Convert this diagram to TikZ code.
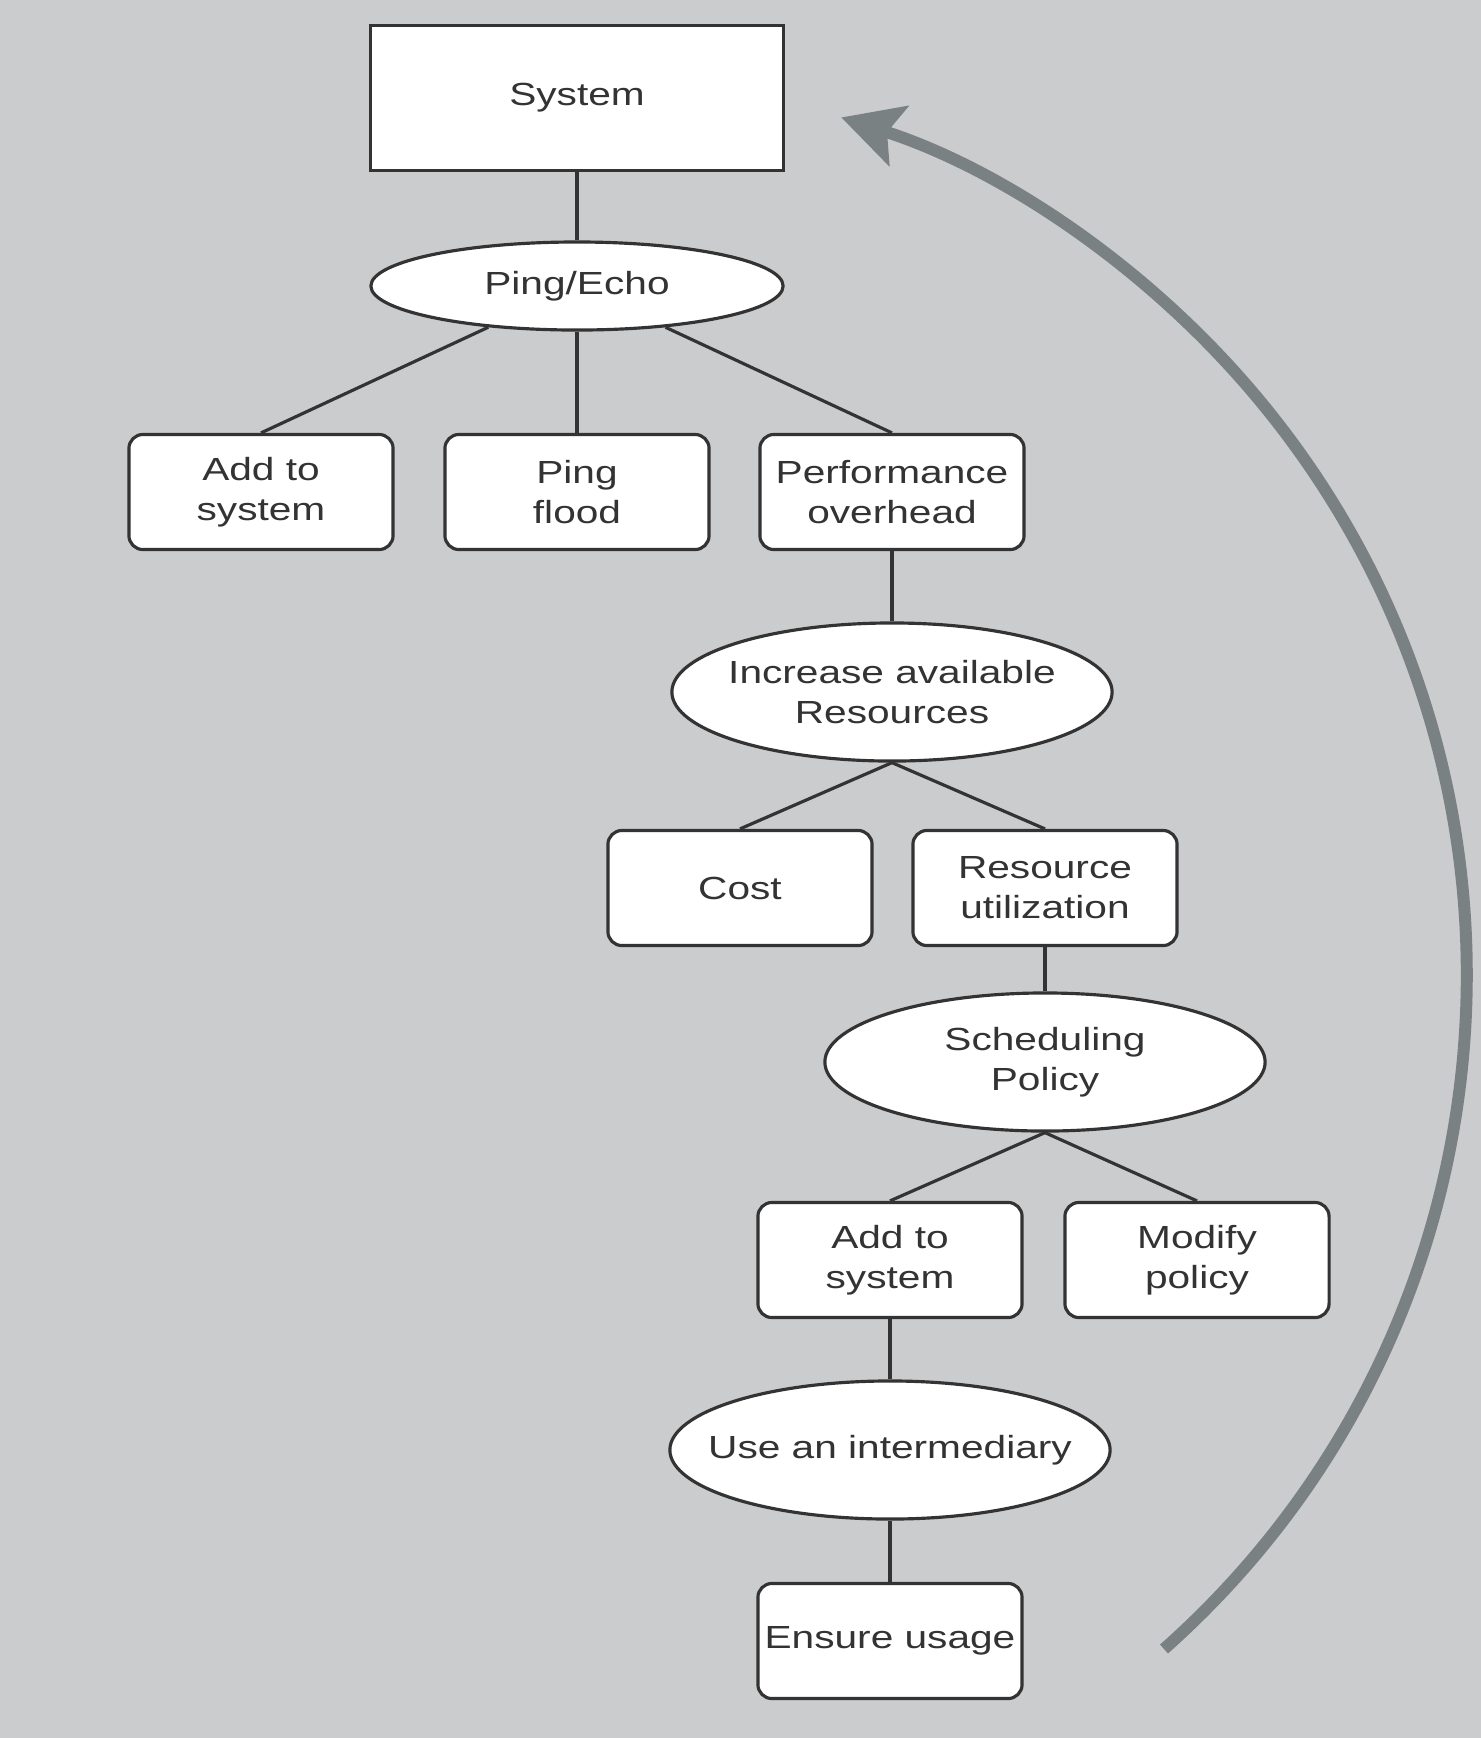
\documentclass[tikz,border=0pt]{standalone}
\usepackage{fontspec}
\setmainfont{Liberation Sans}[FakeStretch=1.27]
\usetikzlibrary{arrows.meta,shapes.geometric}
\definecolor{bg}{HTML}{CBCCCE}
\definecolor{ink}{HTML}{333333}
\definecolor{loopgray}{HTML}{7A8183}

\begin{document}
\begin{tikzpicture}[x=0.01cm,y=0.01cm,color=ink,line width=0.9pt,
  every node/.style={draw,fill=white,inner sep=0pt,align=center,font=\fontsize{9.1}{11.4}\selectfont},
  box/.style={rectangle,rounded corners=0.14cm,minimum width=2.64cm,minimum height=1.15cm},
  oval/.style={ellipse,inner xsep=-3mm,minimum width=4.4cm,minimum height=1.38cm}]
  \useasboundingbox (0,0) rectangle (1481,-1738);
  \fill[bg] (0,0) rectangle (1481,-1738);

  \node[rectangle,minimum width=4.13cm,minimum height=1.45cm] (system) at (577,-98) {System};
  \node[oval,minimum width=4.12cm,minimum height=0.88cm] (ping) at (577,-286) {Ping/Echo};
  \node[box] (add1) at (261,-492) {Add to\\system};
  \node[box] (flood) at (577,-492) {Ping\\flood};
  \node[box] (perf) at (892,-492) {Performance\\overhead};
  \node[oval] (incr) at (892,-692) {Increase available\\Resources};
  \node[box] (cost) at (740,-888) {Cost};
  \node[box] (util) at (1045,-888) {Resource\\utilization};
  \node[oval] (sched) at (1045,-1062) {Scheduling\\Policy};
  \node[box] (add2) at (890,-1260) {Add to\\system};
  \node[box] (modify) at (1197,-1260) {Modify\\policy};
  \node[oval] (inter) at (890,-1450) {Use an intermediary};
  \node[box] (ensure) at (890,-1641) {Ensure usage};

  \draw (system)--(ping);
  \draw (ping)--(add1.north);
  \draw (ping)--(flood);
  \draw (ping)--(perf.north);
  \draw (perf)--(incr);
  \draw (incr.south)--(cost.north);
  \draw (incr.south)--(util.north);
  \draw (util)--(sched);
  \draw (sched.south)--(add2.north);
  \draw (sched.south)--(modify.north);
  \draw (add2)--(inter);
  \draw (inter)--(ensure);

  % feedback loop back to the system
  \coordinate (loopstart) at (1164,-1649);
  \draw[loopgray,line width=3.4pt,-{Stealth[length=6mm,width=6.2mm,inset=1.2mm]}]
    (loopstart) arc[start angle=-48.4,end angle=72.2,radius=901];
\end{tikzpicture}
\end{document}
